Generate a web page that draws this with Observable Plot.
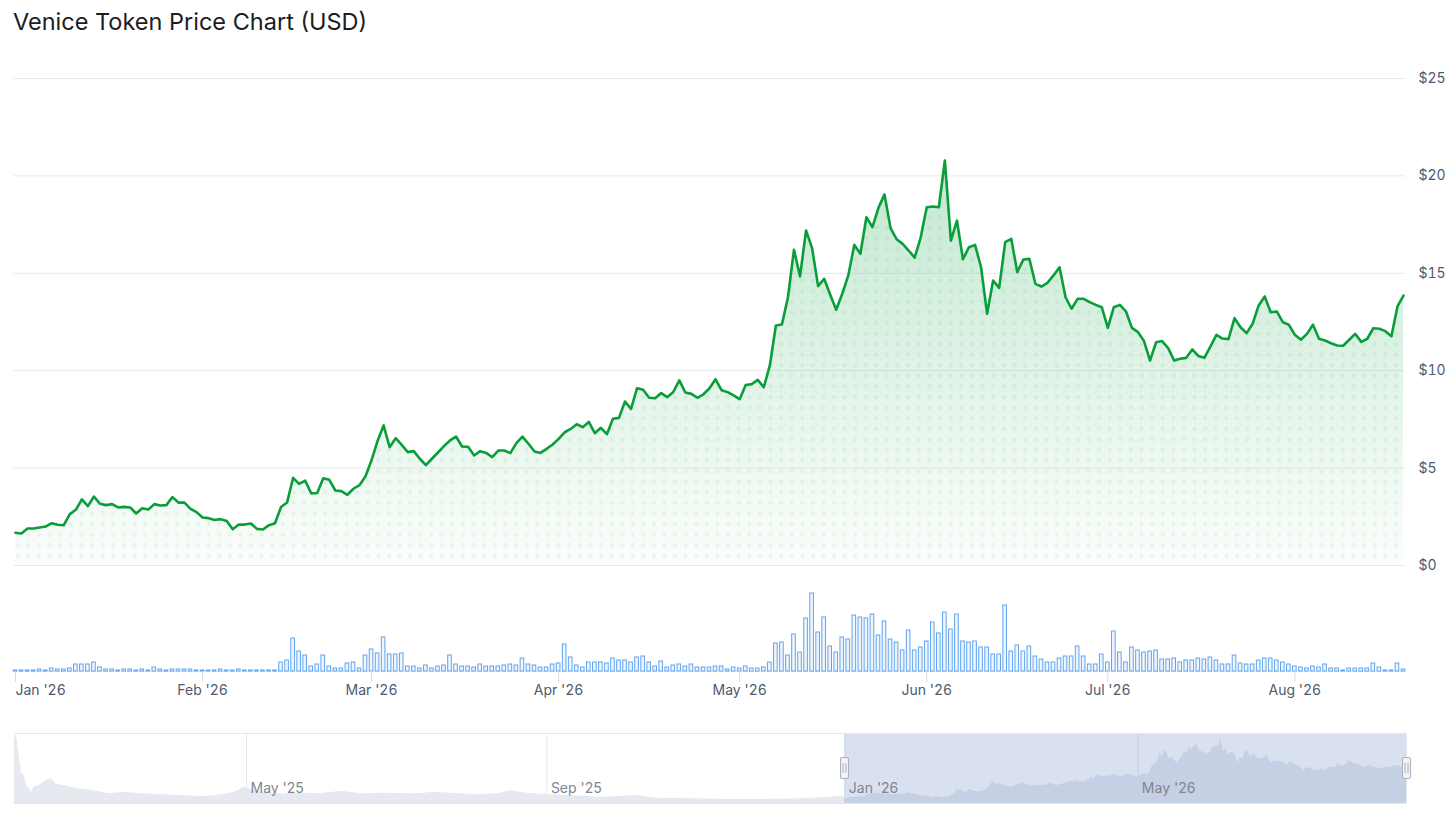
<!DOCTYPE html>
<html><head><meta charset="utf-8">
<script src="https://cdn.jsdelivr.net/npm/d3@7"></script>
<script src="https://cdn.jsdelivr.net/npm/@observablehq/plot@0.6"></script>
<style>
body{margin:0;background:#fff;font-family:Inter,"Noto Sans",sans-serif;}
#wrap{position:relative;width:1456px;height:823px;overflow:hidden;background:#fff;}
#title{position:absolute;left:13px;top:8px;font-size:23.5px;line-height:28px;font-weight:400;color:#1c1c1c;font-family:Inter,sans-serif;}
.p{position:absolute;left:0;}
.p svg{display:block;}
</style></head><body>
<div id="wrap">
  <div id="title">Venice Token Price Chart (USD)</div>
  <div class="p" id="main" style="top:40px"></div>
  <div class="p" id="vol" style="top:575px"></div>
  <div class="p" id="nav" style="top:725px"></div>
</div>
<script>
// ---- Data (daily, starting 1 Jan 2026) ----
const startDay = "2026-01-01";
const prices = [
1.68,1.64,1.90,1.90,1.95,2.00,2.17,2.09,2.07,2.64,2.86,3.39,3.05,3.54,3.17,3.10,3.15,2.98,3.01,2.98,
2.67,2.94,2.87,3.15,3.08,3.10,3.51,3.23,3.23,2.91,2.74,2.46,2.43,2.34,2.38,2.29,1.86,2.10,2.10,2.16,
1.88,1.85,2.07,2.17,3.00,3.23,4.50,4.19,4.36,3.70,3.72,4.48,4.40,3.85,3.82,3.63,3.94,4.12,4.58,5.40,
6.40,7.19,6.07,6.54,6.19,5.82,5.87,5.48,5.15,5.48,5.80,6.13,6.42,6.62,6.11,6.09,5.65,5.87,5.78,5.56,
5.90,5.90,5.77,6.28,6.62,6.25,5.85,5.78,5.99,6.21,6.50,6.84,7.01,7.25,7.10,7.37,6.79,7.07,6.74,7.53,
7.58,8.42,8.04,9.10,9.02,8.61,8.59,8.85,8.64,8.91,9.50,8.88,8.81,8.61,8.79,9.10,9.56,9.00,8.90,8.73,
8.54,9.27,9.31,9.53,9.15,10.27,12.32,12.37,13.77,16.21,14.84,17.20,16.29,14.34,14.72,13.90,13.13,13.95,14.89,16.46,
16.00,17.88,17.37,18.36,19.05,17.32,16.75,16.51,16.17,15.80,16.85,18.39,18.43,18.39,20.79,16.68,17.71,15.72,16.34,16.46,
15.31,12.92,14.63,14.25,16.60,16.77,15.06,15.71,15.74,14.46,14.32,14.51,14.89,15.31,13.77,13.18,13.69,13.69,13.52,13.38,
13.26,12.20,13.26,13.38,13.05,12.20,11.98,11.52,10.52,11.46,11.52,11.16,10.52,10.61,10.66,11.09,10.76,10.66,11.24,11.84,
11.65,11.62,12.70,12.23,11.93,12.41,13.35,13.81,13.00,13.04,12.49,12.36,11.84,11.59,11.89,12.36,11.64,11.55,11.41,11.29,
11.28,11.59,11.89,11.48,11.64,12.18,12.15,12.03,11.77,13.30,13.86
];
const volumes = [
1,1,1,1,2,1,3,2,2,3,7,7,7,9,4,2,2,1,2,2,
1,2,1,4,2,1,2,2,2,2,1,1,1,1,2,1,1,2,1,1,
1,1,1,1,9,11,33,20,16,5,7,16,5,3,3,8,9,3,16,22,
18,34,17,17,18,5,5,3,6,3,5,6,16,7,5,5,4,7,5,5,
5,6,7,6,13,7,6,4,4,7,8,27,14,6,4,9,9,9,8,13,
11,11,9,14,15,9,5,10,4,6,7,5,7,4,4,4,5,5,2,4,
3,5,3,3,4,9,28,29,16,37,19,53,78,39,54,25,19,34,32,56,
54,53,57,36,50,32,29,21,41,21,24,30,49,38,59,42,57,30,29,30,
24,24,17,17,66,20,26,20,25,15,12,9,9,13,15,15,25,15,7,7,
17,9,40,19,9,24,21,19,20,21,12,12,13,9,11,11,13,12,14,11,
7,7,16,8,7,7,11,13,13,11,9,7,5,4,3,5,4,7,3,3,
1,3,3,3,3,8,4,1,1,8,2
];
// navigator: earlier history (2025) before the selected range
const navDates2025 = ["2025-01-26","2025-01-27","2025-01-28","2025-01-29","2025-01-30","2025-01-31","2025-02-02","2025-02-03","2025-02-05","2025-02-07",
"2025-02-10","2025-02-12","2025-02-15","2025-02-18","2025-02-22","2025-02-27","2025-03-06","2025-03-12","2025-03-19","2025-03-26",
"2025-04-03","2025-04-10","2025-04-15","2025-04-21","2025-04-26","2025-04-30","2025-05-07","2025-05-16","2025-05-26","2025-05-31",
"2025-06-09","2025-06-17","2025-06-26","2025-07-10","2025-07-17","2025-07-27","2025-08-04","2025-08-12","2025-08-17","2025-08-24",
"2025-09-01","2025-09-15","2025-09-24","2025-10-08","2025-10-16","2025-11-02","2025-11-15","2025-11-29","2025-12-13","2025-12-26","2025-12-31"];
const navValues2025 = [21.3,20.9,14.5,9.6,9.0,5.8,3.6,5.2,5.8,6.8,
8.1,6.3,5.8,5.2,4.7,4.2,3.1,3.6,3.1,2.9,
2.6,2.3,2.3,2.8,3.6,5.2,3.6,3.1,3.3,3.1,
3.9,3.1,3.3,3.1,3.6,3.1,2.9,3.1,4.2,3.3,
2.9,2.3,2.0,2.6,1.7,1.5,1.3,1.3,1.5,2.0,2.3];
const priceTicks = [0,5,10,15,20,25];
const monthTicks = ["2026-01-01","2026-02-01","2026-03-01","2026-04-01","2026-05-01","2026-06-01","2026-07-01","2026-08-01"];
const navTicks = ["2025-05-01","2025-09-01","2026-01-01","2026-05-01"];
const navDomainY = [0, 22.5];

// ---- build tables ----
const parse = d3.utcParse("%Y-%m-%d");
const start = parse(startDay);
const days = d3.utcDay.range(start, d3.utcDay.offset(start, prices.length));
const data = prices.map((p, i) => ({date: days[i], price: p, vol: volumes[i]}));
const first = days[0], last = days[days.length - 1];
const navData = navDates2025.map((d, i) => ({date: parse(d), price: navValues2025[i]})).concat(data);
const months = monthTicks.map(parse);
const navT = navTicks.map(parse);
const fmt = d3.utcFormat("%b '%y");
const halfBar = 0.3 * 864e5;

const W = 1456;
const slate = "#4d5a6e";
const green = "#0a9e3b";

// ---- main price chart ----
const main = Plot.plot({
  width: W, height: 535, marginTop: 38, marginBottom: 10, marginLeft: 15, marginRight: 53,
  style: {fontFamily: "Inter, sans-serif", background: "transparent"},
  x: {type: "utc", domain: [first, last], axis: null},
  y: {domain: [0, 25], axis: null},
  marks: [
    Plot.ruleY(priceTicks, {stroke: "#e6e9ee", insetLeft: -2, insetRight: -2}),
    Plot.areaY(data, {x: "date", y: "price", fill: "url(#vtGrad)"}),
    Plot.areaY(data, {x: "date", y: "price", fill: "url(#vtDots)"}),
    Plot.lineY(data, {x: "date", y: "price", stroke: green, strokeWidth: 2.6, strokeLinejoin: "round"}),
    Plot.axisY(priceTicks, {anchor: "right", tickSize: 0, tickPadding: 15, textAnchor: "start", label: null,
      tickFormat: d => "$" + d, fill: slate, fontSize: 14})
  ]
});
d3.select(main).insert("defs", ":first-child").html(`
  <linearGradient id="vtGrad" x1="0" y1="0" x2="0" y2="1">
    <stop offset="0" stop-color="#00a03c" stop-opacity="0.24"/>
    <stop offset="1" stop-color="#00a03c" stop-opacity="0.015"/>
  </linearGradient>
  <pattern id="vtDots" patternUnits="userSpaceOnUse" width="10.6" height="10.6" x="2" y="2">
    <circle cx="5.3" cy="5.3" r="2.1" fill="#0a7a30" fill-opacity="0.07"/>
  </pattern>`);
document.getElementById("main").append(main);

// ---- volume chart with x axis ----
const vol = Plot.plot({
  width: W, height: 145, marginTop: 17, marginBottom: 49, marginLeft: 15, marginRight: 53,
  style: {fontFamily: "Inter, sans-serif", background: "transparent"},
  x: {type: "utc", domain: [first, last], axis: null},
  y: {domain: [0, 79], axis: null},
  marks: [
    Plot.ruleY([0], {stroke: "#e6e9ee", insetLeft: -2, insetRight: -2}),
    Plot.rectY(data, {x1: d => new Date(+d.date - halfBar), x2: d => new Date(+d.date + halfBar), y: "vol",
      fill: "#eef5fd", stroke: "#62a4ee", strokeWidth: 1}),
    Plot.axisX(months.slice(1), {tickSize: 11, tickPadding: 3, stroke: "#d5dbe5", fill: slate, fontSize: 14, tickFormat: fmt, label: null}),
    Plot.axisX(months.slice(0, 1), {tickSize: 11, tickPadding: 3, stroke: "#d5dbe5", fill: slate, fontSize: 14, tickFormat: fmt, label: null, textAnchor: "start", dx: 0})
  ]
});
document.getElementById("vol").append(vol);

// ---- navigator ----
function handles(index, scales, values, dims) {
  const g = d3.create("svg:g");
  const yc = (dims.marginTop + dims.height - dims.marginBottom) / 2;
  for (const d of [first, last]) {
    const x = Math.round(scales.x(d)) + 0.5;
    const h = g.append("g").attr("transform", `translate(${x},${yc})`);
    h.append("rect").attr("x", -4).attr("y", -10.5).attr("width", 8).attr("height", 21)
      .attr("rx", 1.5).attr("fill", "#f2f2f2").attr("stroke", "#a9b1bf");
    h.append("path").attr("d", "M-1.5,-5V5M1.5,-5V5").attr("stroke", "#a9b1bf").attr("fill", "none");
  }
  return g.node();
}
const nav = Plot.plot({
  width: W, height: 85, marginTop: 8, marginBottom: 7, marginLeft: 14, marginRight: 50,
  style: {fontFamily: "Inter, sans-serif", background: "transparent"},
  x: {type: "utc", domain: [navData[0].date, last], axis: null},
  y: {domain: navDomainY, axis: null},
  marks: [
    Plot.ruleX(navT, {stroke: "#e6e9ee"}),
    Plot.areaY(navData, {x: "date", y1: navDomainY[0], y2: "price", fill: "#e6eaf0"}),
    Plot.rect([0], {x1: first, x2: last, fill: "rgb(102,133,194)", fillOpacity: 0.25}),
    Plot.text(navT, {x: d => d, text: fmt, frameAnchor: "bottom", dy: -11, dx: 4, textAnchor: "start", fill: "#80858f", fontSize: 14}),
    Plot.frame({stroke: "#e3e7ed"}),
    handles
  ]
});
document.getElementById("nav").append(nav);
</script>
</body></html>
